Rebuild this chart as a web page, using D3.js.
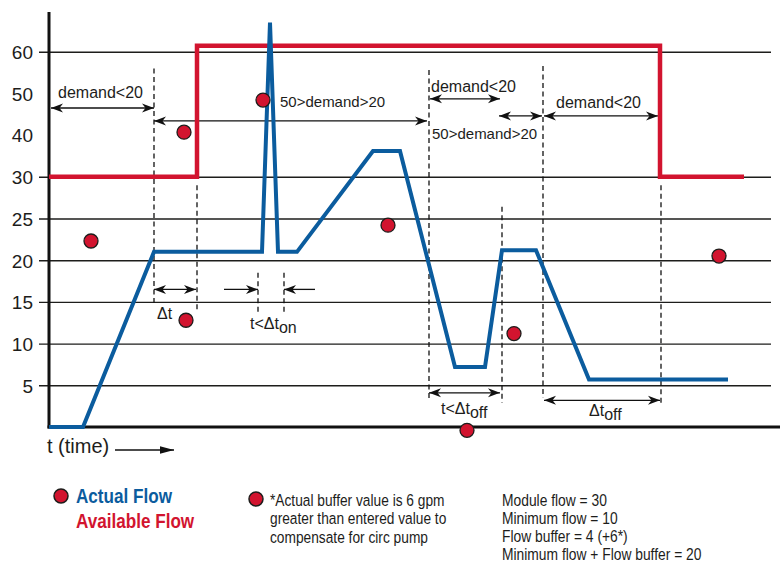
<!DOCTYPE html>
<html>
<head>
<meta charset="utf-8">
<script src="https://cdn.jsdelivr.net/npm/d3@7"></script>
<style>
  body { margin: 0; background: #fff; }
  text { font-family: "Liberation Sans", Arial, sans-serif; fill: #1d1d1b; }
</style>
</head>
<body>
<svg id="chart" width="780" height="565"></svg>
<script>
// y levels are not linear: every label sits on an equally spaced row
const yLevels = [0, 5, 10, 15, 20, 25, 30, 40, 50, 60];
const yTicks = [60, 50, 40, 30, 25, 20, 15, 10, 5];
const gridTicks = [60, 30, 25, 20, 15, 10, 5];

// actual flow (blue)
const actualT = [0, 3.4, 10.5, 21.3, 22.1, 22.9, 24.8, 32.4, 35.1, 40.6, 43.6, 45.3, 48.7, 54, 67.9];
const actualFlow = [0, 0, 21, 21, 67, 21, 21, 36.2, 36.2, 7.2, 7.2, 21.2, 21.2, 5.7, 5.7];

// available flow (red)
const availableT = [0, 14.8, 14.8, 61.1, 61.1, 69.5];
const availableFlow = [30, 30, 61.4, 61.4, 30, 30];

// red callout dots
const dotT = [4.2, 13.5, 13.7, 21.4, 33.9, 41.8, 46.5, 67];
const dotFlow = [22.3, 40.7, 12.8, 48.4, 24.2, -0.4, 11.2, 20.5];

// dashed time markers: time, from, to
const dashT = [10.5, 14.8, 20.9, 23.5, 38, 45.3, 49.4, 61.2];
const dashFrom = [56, 29, 18.5, 18.5, 55.6, 26.4, 56.6, 29];
const dashTo = [14.9, 14, 13.8, 13.8, 3.2, 2.9, 3.5, 2.9];

// interval arrows: [start, end, level, double headed]
const spans = [
  [0.2, 10.5, 46.5, true],
  [10.5, 37.8, 43.4, true],
  [38.1, 45.1, 48.7, true],
  [45.0, 49.3, 44.6, true],
  [49.5, 60.9, 44.6, true],
  [10.5, 14.7, 16.5, true],
  [17.5, 20.9, 16.5, false],
  [26.6, 23.5, 16.5, false],
  [38.0, 45.1, 4.1, true],
  [49.5, 61.1, 3.2, true]
];

// interval labels: [time, level, text, subscript, size]
const notes = [
  [0.9, 48.9, 'demand<20', '', 16],
  [23.1, 46.7, '50>demand>20', '', 15],
  [38.2, 50.4, 'demand<20', '', 16],
  [38.3, 39.1, '50>demand>20', '', 15],
  [50.7, 46.5, 'demand<20', '', 16],
  [10.8, 12.9, 'Δt', '', 16],
  [20.1, 11.75, 't<Δt', 'on', 16],
  [39.2, 1.6, 't<Δt', 'off', 16],
  [54.0, 1.3, 'Δt', 'off', 16]
];

const legendNote = ['*Actual buffer value is 6 gpm', 'greater than entered value to', 'compensate for circ pump'];
const settings = ['Module flow = 30', 'Minimum flow = 10', 'Flow buffer = 4 (+6*)', 'Minimum flow + Flow buffer = 20'];

const red = '#d2142f';
const blue = '#0b5c9e';

const svg = d3.select('#chart');
const x = d3.scaleLinear().domain([0, 72.2]).range([49, 771]);
const yTop = 51.7, yBottom = 427;
const step = (yBottom - yTop) / (yLevels.length - 1);
const y = d3.scaleLinear().domain(yLevels).range(yLevels.map((d, i) => yBottom - i * step));

const defs = svg.append('defs');
defs.append('marker')
  .attr('id', 'head')
  .attr('viewBox', '0 -5 12 10')
  .attr('refX', 12).attr('refY', 0)
  .attr('markerWidth', 12).attr('markerHeight', 10)
  .attr('markerUnits', 'userSpaceOnUse')
  .attr('orient', 'auto-start-reverse')
  .append('path')
  .attr('d', 'M0,-4.5L12,0L0,4.5L3.5,0Z')
  .style('fill', '#111');
defs.append('marker')
  .attr('id', 'solid')
  .attr('viewBox', '0 -5 14 10')
  .attr('refX', 14).attr('refY', 0)
  .attr('markerWidth', 14).attr('markerHeight', 10)
  .attr('markerUnits', 'userSpaceOnUse')
  .attr('orient', 'auto')
  .append('path')
  .attr('d', 'M0,-3.8L14,0L0,3.8Z')
  .style('fill', '#111');

// gridlines
const grid = svg.append('g')
  .attr('transform', `translate(${x(72.2)},0)`)
  .call(d3.axisLeft(y).tickValues(gridTicks).tickSize(x(72.2) - 39).tickFormat(''));
grid.select('.domain').remove();
grid.selectAll('line').style('stroke', '#1d1d1b').style('stroke-width', '1.4px');

// y labels
const yAxis = svg.append('g')
  .attr('transform', `translate(${x(0)},0)`)
  .call(d3.axisLeft(y).tickValues(yTicks).tickSize(0).tickPadding(16));
yAxis.select('.domain').remove();
yAxis.attr('font-size', null).attr('font-family', null);
yAxis.selectAll('text').style('font-size', '19px').attr('dy', '0.36em');

// axis lines
svg.append('line')
  .attr('x1', x(0)).attr('x2', x(0))
  .attr('y1', 12).attr('y2', y(0) + 1.5)
  .style('stroke', '#111').style('stroke-width', '3px');
svg.append('line')
  .attr('x1', x(0) - 1.5).attr('x2', 780)
  .attr('y1', y(0)).attr('y2', y(0))
  .style('stroke', '#111').style('stroke-width', '3px');

// dashed time markers
svg.selectAll('.dash')
  .data(dashT)
  .enter()
  .append('line')
  .attr('class', 'dash')
  .attr('x1', d => x(d)).attr('x2', d => x(d))
  .attr('y1', (d, i) => y(dashFrom[i])).attr('y2', (d, i) => y(dashTo[i]))
  .style('stroke', '#111').style('stroke-width', '1.3px')
  .style('stroke-dasharray', '5,3.5');

// interval arrows
svg.selectAll('.span')
  .data(spans)
  .enter()
  .append('line')
  .attr('class', 'span')
  .attr('x1', d => x(d[0])).attr('x2', d => x(d[1]))
  .attr('y1', d => y(d[2])).attr('y2', d => y(d[2]))
  .attr('marker-end', 'url(#head)')
  .attr('marker-start', d => d[3] ? 'url(#head)' : null)
  .style('stroke', '#111').style('stroke-width', '1.3px');

// interval labels
const note = svg.selectAll('.note')
  .data(notes)
  .enter()
  .append('text')
  .attr('class', 'note')
  .attr('x', d => x(d[0])).attr('y', d => y(d[1]))
  .style('font-size', d => d[4] + 'px');
note.append('tspan').text(d => d[2]);
note.filter(d => d[3])
  .append('tspan')
  .attr('dy', 4)
  .text(d => d[3]);

// flow lines
const line = d3.line().x(d => x(d[0])).y(d => y(d[1]));
svg.append('path')
  .attr('d', line(availableT.map((t, i) => [t, availableFlow[i]])))
  .style('fill', 'none').style('stroke', red).style('stroke-width', '4.5px');
svg.append('path')
  .attr('d', line(actualT.map((t, i) => [t, actualFlow[i]])))
  .style('fill', 'none').style('stroke', blue).style('stroke-width', '4px');

// callout dots
svg.selectAll('.dot')
  .data(dotT)
  .enter()
  .append('circle')
  .attr('class', 'dot')
  .attr('cx', d => x(d)).attr('cy', (d, i) => y(dotFlow[i]))
  .attr('r', 7)
  .style('fill', red).style('stroke', '#1d1d1b').style('stroke-width', '1.3px');

// x title
svg.append('text')
  .attr('x', 47).attr('y', 453)
  .style('font-size', '20px')
  .text('t (time)');
svg.append('line')
  .attr('x1', 115).attr('x2', 174)
  .attr('y1', 450).attr('y2', 450)
  .attr('marker-end', 'url(#solid)')
  .style('stroke', '#111').style('stroke-width', '1.5px');

// legend -- the original face is condensed, so squeeze the text horizontally
const legend = svg.append('g');
legend.append('circle').attr('cx', 61).attr('cy', 496).attr('r', 7)
  .style('fill', red).style('stroke', '#1d1d1b').style('stroke-width', '1.5px');
const keys = legend.append('g').attr('transform', 'translate(76,0) scale(0.815,1)');
keys.append('text').attr('y', 503)
  .style('font-size', '21px').style('font-weight', 'bold').style('fill', blue)
  .text('Actual Flow');
keys.append('text').attr('y', 528)
  .style('font-size', '21px').style('font-weight', 'bold').style('fill', red)
  .text('Available Flow');

legend.append('circle').attr('cx', 256).attr('cy', 499).attr('r', 7)
  .style('fill', red).style('stroke', '#1d1d1b').style('stroke-width', '1.5px');
legend.append('g')
  .attr('transform', 'translate(270,0) scale(0.843,1)')
  .selectAll('text')
  .data(legendNote)
  .enter()
  .append('text')
  .attr('y', (d, i) => 506 + i * 18.3)
  .style('font-size', '16.3px')
  .text(d => d);

legend.append('g')
  .attr('transform', 'translate(502,0) scale(0.865,1)')
  .selectAll('text')
  .data(settings)
  .enter()
  .append('text')
  .attr('y', (d, i) => 506 + i * 18)
  .style('font-size', '16px')
  .text(d => d);
</script>
</body>
</html>
